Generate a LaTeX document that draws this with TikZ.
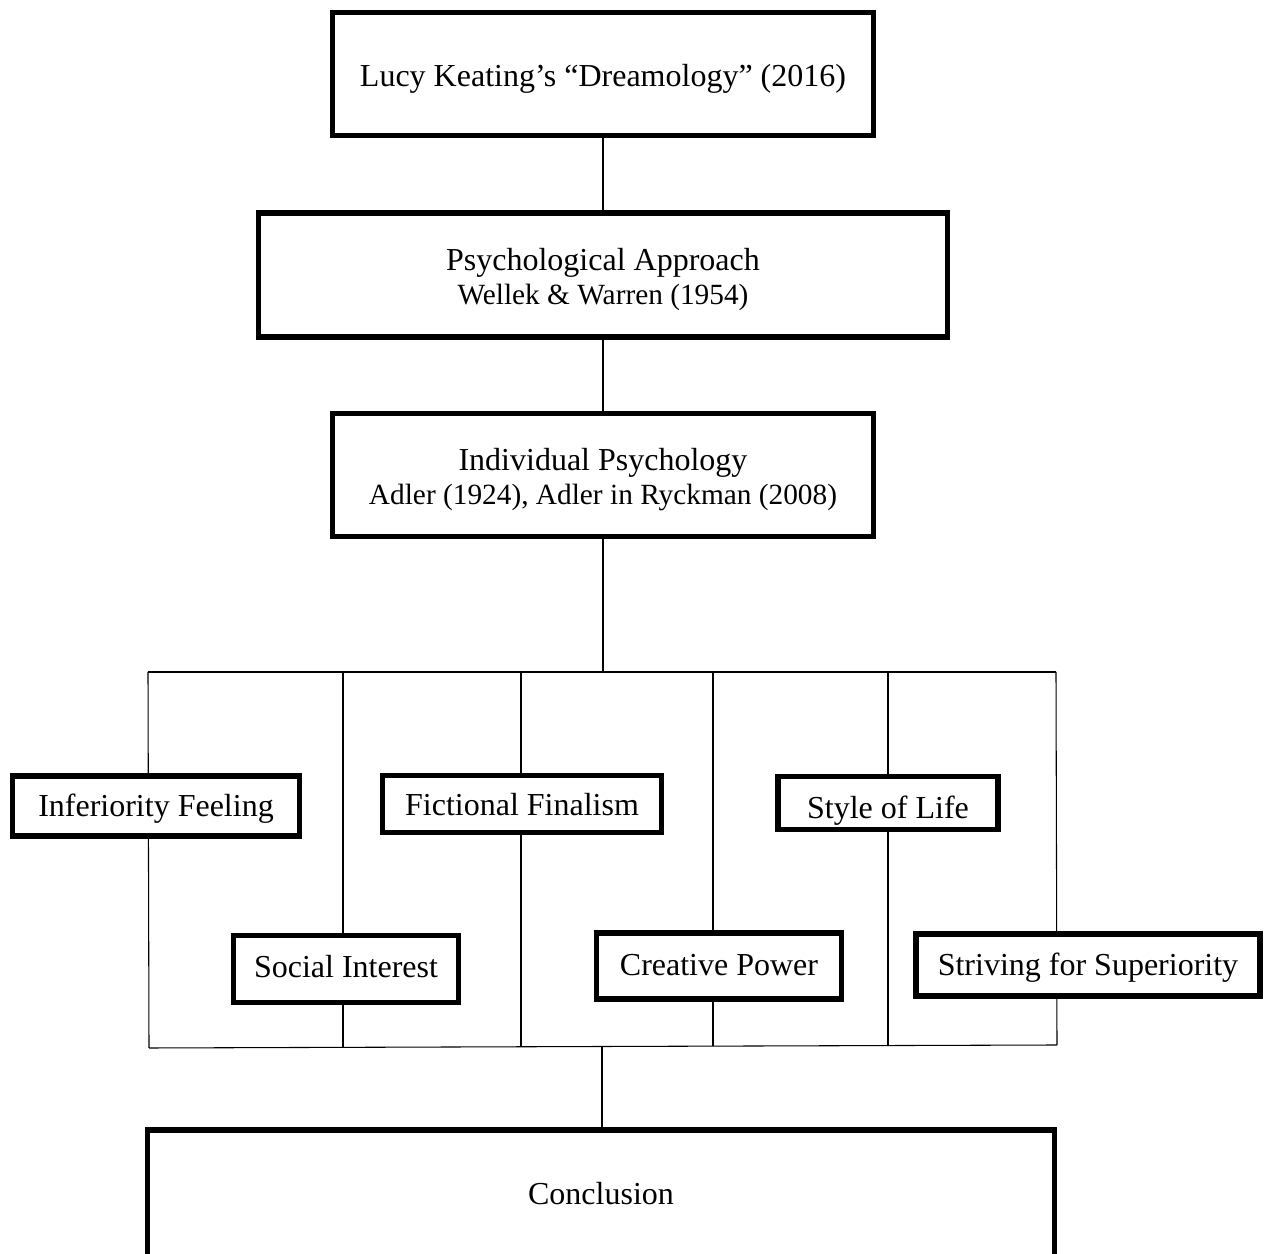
\documentclass[tikz,border=0pt]{standalone}
\usepackage{fontspec}
\setmainfont{Liberation Serif}
\usetikzlibrary{positioning,backgrounds}
\tikzset{
    % width, height, last baseline below centre (all in px of the sketch)
    conceptBox/.style n args={3}{
        ,   draw
        ,   line width=1.9pt
        ,   fill=white
        ,   align=center
        ,   inner sep=0pt
        ,   minimum width=#1*0.375pt
        ,   /utils/exec={%
                \pgfmathsetmacro\boxTop{(#2/2+#3)*0.375}%
                \pgfmathsetmacro\boxBot{(#2/2-#3)*0.375}}
        ,   text height=\boxTop pt
        ,   text depth=\boxBot pt
        ,   font=\fontsize{12}{12.75}\selectfont
    },
    branchLine/.style={
        ,   line width=0.5pt
    }
}
\newcommand{\refSize}{\fontsize{11}{12.75}\selectfont}

\begin{document}
\begin{tikzpicture}[x=0.375pt,y=-0.375pt]
    \useasboundingbox (0,0) rectangle (1266,1254);

    % main chain
    \node[conceptBox={541}{123}{13}] (lucy) at (603,74) {Lucy Keating’s “Dreamology” (2016)};
    \node[conceptBox={689}{124}{30}] (psych) at (603,275) {Psychological Approach\\{\refSize Wellek \& Warren (1954)}};
    \node[conceptBox={541}{123}{30}] (indiv) at (603,475) {Individual Psychology\\{\refSize Adler (1924), Adler in Ryckman (2008)}};

    % six concepts
    \node[conceptBox={287}{60}{10.5}] (inferiority) at (156,806) {Inferiority Feeling};
    \node[conceptBox={279}{57}{12}] (fictional) at (522,804) {Fictional Finalism};
    \node[conceptBox={220}{53}{16}] (style) at (888,803) {Style of Life};
    \node[conceptBox={225}{67}{9}] (social) at (346,969) {Social Interest};
    \node[conceptBox={245}{66}{9.5}] (creative) at (719,966) {Creative Power};
    \node[conceptBox={344}{62}{10.5}] (striving) at (1088,965) {Striving for Superiority};

    \node[conceptBox={907}{130}{10}] (conclusion) at (601,1195) {Conclusion};

    \begin{scope}[on background layer, branchLine]
        \coordinate (busTop) at (603,672);
        \coordinate (busBot) at (602,1047);
        \draw (lucy) -- (psych);
        \draw (psych) -- (indiv);
        \draw (indiv) -- (busTop);
        \foreach \xt/\xb/\yb [count=\i] in {148/149/1048, 343/343/1047, 521/521/1047, 713/713/1046, 888/888/1046, 1056/1057/1045}{
            \coordinate (top\i) at (\xt,672);
            \coordinate (bot\i) at (\xb,\yb);
            \draw (top\i) -- (bot\i);
        }
        \draw (top1) -- (top6);
        \draw (bot1) -- (bot6);
        \draw (busBot) -- (busBot |- conclusion.north);
    \end{scope}
\end{tikzpicture}
\end{document}
